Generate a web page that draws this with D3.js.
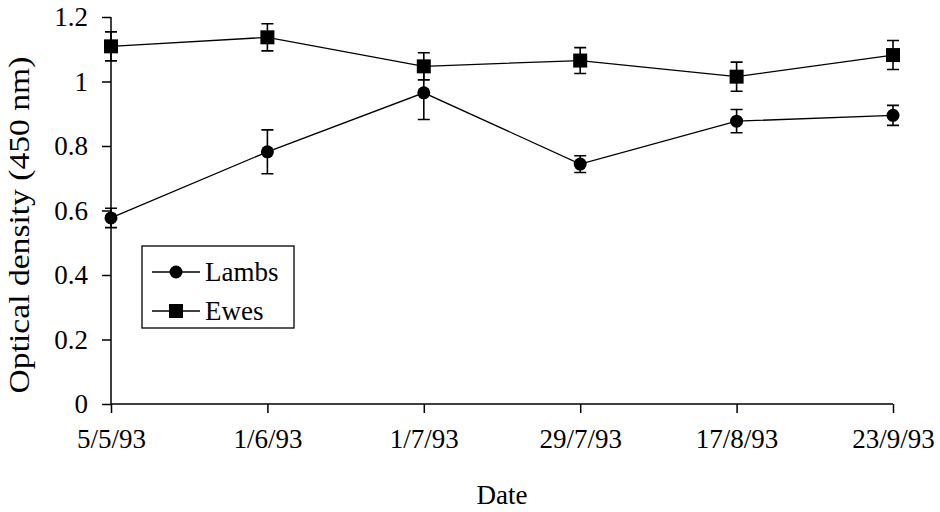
<!DOCTYPE html>
<html>
<head>
<meta charset="utf-8">
<script src="https://cdn.jsdelivr.net/npm/d3@7"></script>
<style>
  body { margin: 0; background: #fff; }
  svg { display: block; }
  text { font-family: "Liberation Serif", "Times New Roman", serif; fill: #000; }
</style>
</head>
<body>
<script>
// data
const dates = ["5/5/93", "1/6/93", "1/7/93", "29/7/93", "17/8/93", "23/9/93"];
const lambs = [0.577, 0.782, 0.965, 0.744, 0.877, 0.895];
const lambsErr = [0.03, 0.068, 0.083, 0.026, 0.036, 0.031];
const ewes = [1.109, 1.137, 1.047, 1.065, 1.015, 1.082];
const ewesErr = [0.045, 0.042, 0.042, 0.04, 0.045, 0.045];
const yTicks = [0, 0.2, 0.4, 0.6, 0.8, 1, 1.2];

const width = 940, height = 512;
const margin = { left: 111, right: 47, top: 17, bottom: 108 };

const svg = d3.select("body").append("svg")
    .attr("width", width)
    .attr("height", height);

const x = d3.scalePoint()
    .domain(dates)
    .range([margin.left, width - margin.right]);

const y = d3.scaleLinear()
    .domain([0, 1.2])
    .range([height - margin.bottom, margin.top]);

// axes
const yAxis = svg.append("g")
    .attr("transform", `translate(${margin.left},0)`)
    .call(d3.axisLeft(y).tickValues(yTicks).tickSize(9).tickPadding(14).tickFormat(d3.format("")));
const xAxis = svg.append("g")
    .attr("transform", `translate(0,${height - margin.bottom})`)
    .call(d3.axisBottom(x).tickSize(9).tickPadding(16));

[yAxis, xAxis].forEach(g => {
    g.attr("font-family", null).attr("font-size", null);
    g.select(".domain").attr("stroke", "#000").attr("stroke-width", 1.5);
    g.selectAll(".tick line").attr("stroke", "#000").attr("stroke-width", 1.5);
    g.selectAll(".tick text").style("font-size", "27px");
});
// straight domain lines without the end ticks
yAxis.select(".domain").attr("d", `M0,${y(1.2)}V${y(0)}`);
xAxis.select(".domain").attr("d", `M${margin.left},0H${width - margin.right}`);

// axis titles
svg.append("text")
    .attr("transform", `translate(29,225) rotate(-90) scale(1.12,1)`)
    .attr("text-anchor", "middle")
    .style("font-size", "30px")
    .text("Optical density (450 nm)");

svg.append("text")
    .attr("x", 502)
    .attr("y", 504)
    .attr("text-anchor", "middle")
    .style("font-size", "27px")
    .text("Date");

const series = [
    { name: "Lambs", values: lambs, err: lambsErr, shape: "circle" },
    { name: "Ewes", values: ewes, err: ewesErr, shape: "square" }
];

const line = d3.line().x(d => x(d.date)).y(d => y(d.v));

function drawMarker(g, shape, cx, cy) {
    if (shape === "circle") {
        g.append("circle").attr("cx", cx).attr("cy", cy).attr("r", 6.5).attr("fill", "#000");
    } else {
        g.append("rect").attr("x", cx - 7).attr("y", cy - 7).attr("width", 14).attr("height", 14).attr("fill", "#000");
    }
}

series.forEach(s => {
    const pts = dates.map((d, i) => ({ date: d, v: s.values[i], e: s.err[i] }));
    const g = svg.append("g");

    g.append("path")
        .attr("d", line(pts))
        .attr("fill", "none")
        .attr("stroke", "#000")
        .attr("stroke-width", 1.3);

    pts.forEach(p => {
        const cx = x(p.date);
        const top = y(p.v + p.e), bot = y(p.v - p.e);
        g.append("path")
            .attr("d", `M${cx},${top}V${bot}M${cx - 6},${top}H${cx + 6}M${cx - 6},${bot}H${cx + 6}`)
            .attr("stroke", "#000")
            .attr("stroke-width", 1.6)
            .attr("fill", "none");
        drawMarker(g, s.shape, cx, y(p.v));
    });
});

// legend
const legend = svg.append("g").attr("transform", "translate(142,246)");
legend.append("rect")
    .attr("width", 152).attr("height", 82)
    .attr("fill", "#fff").attr("stroke", "#000").attr("stroke-width", 1.3);

series.forEach((s, i) => {
    const ly = 26 + i * 39;
    legend.append("line")
        .attr("x1", 10).attr("x2", 58).attr("y1", ly).attr("y2", ly)
        .attr("stroke", "#000").attr("stroke-width", 1.3);
    drawMarker(legend, s.shape, 34, ly);
    legend.append("text")
        .attr("x", 63).attr("y", ly + 9)
        .style("font-size", "27px")
        .text(s.name);
});
</script>
</body>
</html>
